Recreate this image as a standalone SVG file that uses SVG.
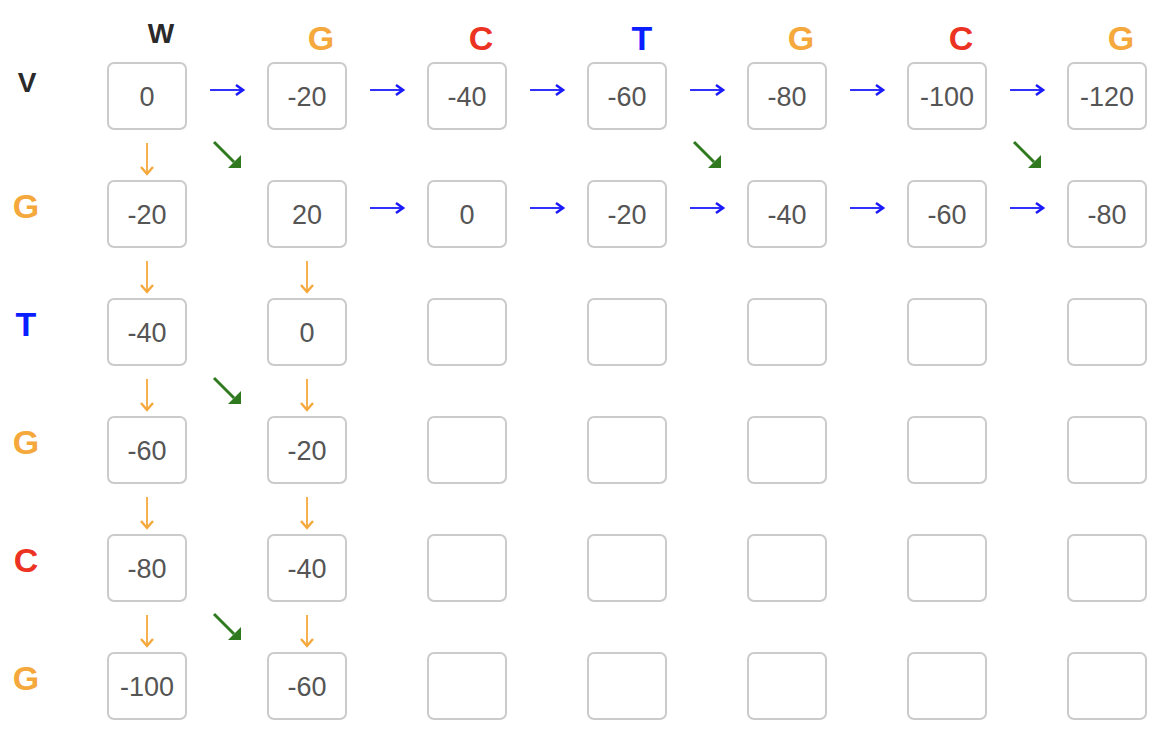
<svg xmlns="http://www.w3.org/2000/svg" xmlns:xlink="http://www.w3.org/1999/xlink" width="1174" height="744" viewBox="0 0 1174 744">
<style>
.box{fill:#fff;stroke:#cbcbcb;stroke-width:2}
.num{font-family:"Liberation Sans",Arial,sans-serif;font-size:27px;fill:#555;text-anchor:middle}
.lbl{font-family:"Liberation Sans",Arial,sans-serif;font-weight:bold;text-anchor:middle}
.big{font-size:34px}
.sm{font-size:28px;fill:#2a2a2a}
.o{fill:#F5A83B}.r{fill:#EC3223}.b{fill:#0A1EFF}
.ab{stroke:#1A1AFF;stroke-width:1.8;fill:none}
.abh{stroke:#1A1AFF;stroke-width:2.6;fill:none;stroke-linejoin:miter}
.ao{stroke:#F5A83B;stroke-width:1.8;fill:none}
.aoh{stroke:#F5A83B;stroke-width:2.4;fill:none}
.ag{stroke:#2F7A1E;stroke-width:3;fill:none}
.agh{fill:#2F7A1E}
</style>
<defs>
<g id="arR"><path class="ab" d="M0,0 H32"/><path class="abh" d="M26,-5 L33,0 L26,5"/></g>
<g id="arD"><path class="ao" d="M0,0 V30"/><path class="aoh" d="M-6,24 L0,31 L6,24"/></g>
<g id="arG"><path class="ag" d="M0,0 L20,20"/><path class="agh" d="M27,26 L14,26 L27,13 Z"/></g>
</defs>
<rect width="1174" height="744" fill="#fff"/>
<g id="labels">
<text class="lbl sm" x="161" y="43">W</text>
<text class="lbl big o" x="321" y="50">G</text>
<text class="lbl big r" x="481" y="50">C</text>
<text class="lbl big b" x="642" y="50">T</text>
<text class="lbl big o" x="801" y="50">G</text>
<text class="lbl big r" x="961" y="50">C</text>
<text class="lbl big o" x="1121" y="50">G</text>
<text class="lbl sm" x="27" y="92">V</text>
<text class="lbl big o" x="26" y="218">G</text>
<text class="lbl big b" x="26" y="336">T</text>
<text class="lbl big o" x="26" y="454">G</text>
<text class="lbl big r" x="26" y="572">C</text>
<text class="lbl big o" x="26" y="690">G</text>
</g>
<g id="nodes">
<g id="n1_1"><rect class="box" x="108" y="63" width="78" height="66" rx="6"/><text class="num" x="147" y="106">0</text></g>
<g id="n1_2"><rect class="box" x="268" y="63" width="78" height="66" rx="6"/><text class="num" x="307" y="106">-20</text></g>
<g id="n1_3"><rect class="box" x="428" y="63" width="78" height="66" rx="6"/><text class="num" x="467" y="106">-40</text></g>
<g id="n1_4"><rect class="box" x="588" y="63" width="78" height="66" rx="6"/><text class="num" x="627" y="106">-60</text></g>
<g id="n1_5"><rect class="box" x="748" y="63" width="78" height="66" rx="6"/><text class="num" x="787" y="106">-80</text></g>
<g id="n1_6"><rect class="box" x="908" y="63" width="78" height="66" rx="6"/><text class="num" x="947" y="106">-100</text></g>
<g id="n1_7"><rect class="box" x="1068" y="63" width="78" height="66" rx="6"/><text class="num" x="1107" y="106">-120</text></g>

<g id="n2_1"><rect class="box" x="108" y="181" width="78" height="66" rx="6"/><text class="num" x="147" y="224">-20</text></g>
<g id="n2_2"><rect class="box" x="268" y="181" width="78" height="66" rx="6"/><text class="num" x="307" y="224">20</text></g>
<g id="n2_3"><rect class="box" x="428" y="181" width="78" height="66" rx="6"/><text class="num" x="467" y="224">0</text></g>
<g id="n2_4"><rect class="box" x="588" y="181" width="78" height="66" rx="6"/><text class="num" x="627" y="224">-20</text></g>
<g id="n2_5"><rect class="box" x="748" y="181" width="78" height="66" rx="6"/><text class="num" x="787" y="224">-40</text></g>
<g id="n2_6"><rect class="box" x="908" y="181" width="78" height="66" rx="6"/><text class="num" x="947" y="224">-60</text></g>
<g id="n2_7"><rect class="box" x="1068" y="181" width="78" height="66" rx="6"/><text class="num" x="1107" y="224">-80</text></g>

<g id="n3_1"><rect class="box" x="108" y="299" width="78" height="66" rx="6"/><text class="num" x="147" y="342">-40</text></g>
<g id="n3_2"><rect class="box" x="268" y="299" width="78" height="66" rx="6"/><text class="num" x="307" y="342">0</text></g>
<g id="n3_3"><rect class="box" x="428" y="299" width="78" height="66" rx="6"/></g>
<g id="n3_4"><rect class="box" x="588" y="299" width="78" height="66" rx="6"/></g>
<g id="n3_5"><rect class="box" x="748" y="299" width="78" height="66" rx="6"/></g>
<g id="n3_6"><rect class="box" x="908" y="299" width="78" height="66" rx="6"/></g>
<g id="n3_7"><rect class="box" x="1068" y="299" width="78" height="66" rx="6"/></g>

<g id="n4_1"><rect class="box" x="108" y="417" width="78" height="66" rx="6"/><text class="num" x="147" y="460">-60</text></g>
<g id="n4_2"><rect class="box" x="268" y="417" width="78" height="66" rx="6"/><text class="num" x="307" y="460">-20</text></g>
<g id="n4_3"><rect class="box" x="428" y="417" width="78" height="66" rx="6"/></g>
<g id="n4_4"><rect class="box" x="588" y="417" width="78" height="66" rx="6"/></g>
<g id="n4_5"><rect class="box" x="748" y="417" width="78" height="66" rx="6"/></g>
<g id="n4_6"><rect class="box" x="908" y="417" width="78" height="66" rx="6"/></g>
<g id="n4_7"><rect class="box" x="1068" y="417" width="78" height="66" rx="6"/></g>

<g id="n5_1"><rect class="box" x="108" y="535" width="78" height="66" rx="6"/><text class="num" x="147" y="578">-80</text></g>
<g id="n5_2"><rect class="box" x="268" y="535" width="78" height="66" rx="6"/><text class="num" x="307" y="578">-40</text></g>
<g id="n5_3"><rect class="box" x="428" y="535" width="78" height="66" rx="6"/></g>
<g id="n5_4"><rect class="box" x="588" y="535" width="78" height="66" rx="6"/></g>
<g id="n5_5"><rect class="box" x="748" y="535" width="78" height="66" rx="6"/></g>
<g id="n5_6"><rect class="box" x="908" y="535" width="78" height="66" rx="6"/></g>
<g id="n5_7"><rect class="box" x="1068" y="535" width="78" height="66" rx="6"/></g>

<g id="n6_1"><rect class="box" x="108" y="653" width="78" height="66" rx="6"/><text class="num" x="147" y="696">-100</text></g>
<g id="n6_2"><rect class="box" x="268" y="653" width="78" height="66" rx="6"/><text class="num" x="307" y="696">-60</text></g>
<g id="n6_3"><rect class="box" x="428" y="653" width="78" height="66" rx="6"/></g>
<g id="n6_4"><rect class="box" x="588" y="653" width="78" height="66" rx="6"/></g>
<g id="n6_5"><rect class="box" x="748" y="653" width="78" height="66" rx="6"/></g>
<g id="n6_6"><rect class="box" x="908" y="653" width="78" height="66" rx="6"/></g>
<g id="n6_7"><rect class="box" x="1068" y="653" width="78" height="66" rx="6"/></g>
</g>
<g id="connectors">
<use xlink:href="#arR" x="210" y="90"/>
<use xlink:href="#arR" x="370" y="90"/>
<use xlink:href="#arR" x="530" y="90"/>
<use xlink:href="#arR" x="690" y="90"/>
<use xlink:href="#arR" x="850" y="90"/>
<use xlink:href="#arR" x="1010" y="90"/>
<use xlink:href="#arR" x="370" y="208"/>
<use xlink:href="#arR" x="530" y="208"/>
<use xlink:href="#arR" x="690" y="208"/>
<use xlink:href="#arR" x="850" y="208"/>
<use xlink:href="#arR" x="1010" y="208"/>
<use xlink:href="#arD" x="147" y="143"/>
<use xlink:href="#arD" x="147" y="261"/>
<use xlink:href="#arD" x="147" y="379"/>
<use xlink:href="#arD" x="147" y="497"/>
<use xlink:href="#arD" x="147" y="615"/>
<use xlink:href="#arD" x="307" y="261"/>
<use xlink:href="#arD" x="307" y="379"/>
<use xlink:href="#arD" x="307" y="497"/>
<use xlink:href="#arD" x="307" y="615"/>
<use xlink:href="#arG" x="214" y="142"/>
<use xlink:href="#arG" x="694" y="142"/>
<use xlink:href="#arG" x="1014" y="142"/>
<use xlink:href="#arG" x="214" y="378"/>
<use xlink:href="#arG" x="214" y="614"/>
</g>
</svg>
